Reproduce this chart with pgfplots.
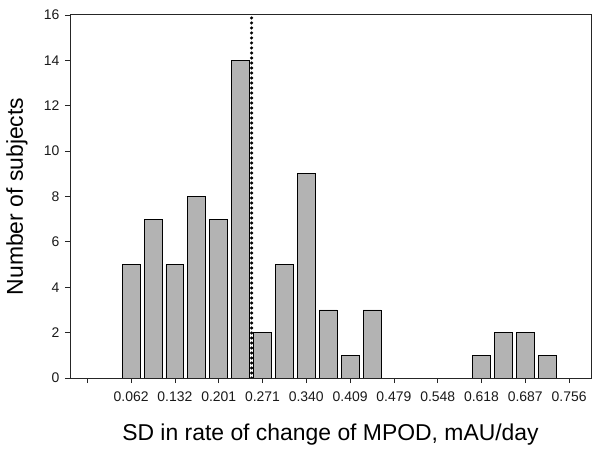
\documentclass[border=0pt]{standalone}
\usepackage{pgfplots}
\pgfplotsset{compat=1.18}
\usepackage{fontspec}
\setmainfont{Liberation Sans}
\definecolor{barfill}{HTML}{B3B3B3}
\begin{document}
\begin{tikzpicture}
\path[use as bounding box] (0,0) rectangle (600bp,454bp);
\begin{axis}[
  at={(70bp,76bp)}, anchor=south west,
  scale only axis, width=521bp, height=363bp,
  xmin=-2.79, xmax=21.0, ymin=0, ymax=16,
  xtick={-2,0,2,4,6,8,10,12,14,16,18,20},
  xticklabels={,0.062,0.132,0.201,0.271,0.340,0.409,0.479,0.548,0.618,0.687,0.756},
  ytick={0,2,...,16},
  tick align=outside, tick pos=left,
  major tick length=5bp,
  axis line style={line width=1pt, black!85},
  every tick/.style={line width=0.8pt, black!85},
  /pgf/number format/assume math mode=true,
  tick label style={font=\fontsize{14}{16}\selectfont, black!90},
  xticklabel style={yshift=-5bp},
  yticklabel style={xshift=-2bp},
  label style={font=\fontsize{23}{27}\selectfont},
  xlabel={SD in rate of change of MPOD, mAU/day},
  ylabel={Number of subjects},
  xlabel style={at={(axis description cs:0.5,-0.1708)}, anchor=base},
  ylabel style={at={(axis description cs:-0.1017,0.5)}, anchor=center},
]
\addplot[ybar, bar width=0.82, bar shift=0pt, fill=barfill, draw=black, line width=0.8pt]
  coordinates {(0,5) (1,7) (2,5) (3,8) (4,7) (5,14) (6,2) (7,5) (8,9) (9,3) (10,1) (11,3)
               (16,1) (17,2) (18,2) (19,1)};
\addplot[black, line width=3.4bp, line cap=round, dash pattern=on 0pt off 5bp]
  coordinates {(5.5,0) (5.5,16)};
\end{axis}
\end{tikzpicture}
\end{document}
